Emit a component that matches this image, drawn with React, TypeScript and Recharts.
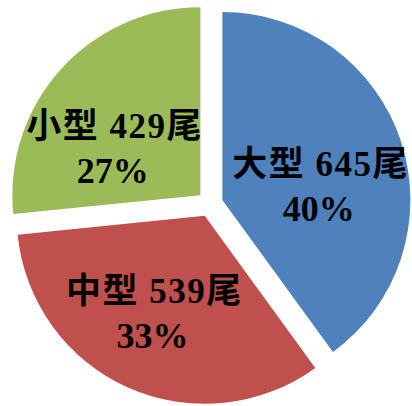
import React from 'react';
import { PieChart, Pie, Cell, Sector } from 'recharts';

const categories = ['大型', '中型', '小型'];
const counts = [645, 539, 429];
const percentLabels = ['40%', '33%', '27%'];

const COLORS = ['#4F81BD', '#C0504D', '#9BBB59'];
const EXPLODE = 13;
const RADIAN = Math.PI / 180;
// small label nudges so the text sits where the original put it
const LABEL_NUDGE = [
  [0, 8],
  [-8, -7],
  [-9, 12],
];

const data = categories.map((name, i) => ({ name, value: counts[i], pct: percentLabels[i] }));

const ExplodedSector = (props: any) => {
  const { cx, cy, midAngle } = props;
  const dx = EXPLODE * Math.cos(-midAngle * RADIAN);
  const dy = EXPLODE * Math.sin(-midAngle * RADIAN);
  return <Sector {...props} cx={cx + dx} cy={cy + dy} />;
};

const renderLabel = (props: any) => {
  const { cx, cy, midAngle, outerRadius, index } = props;
  const r = EXPLODE + outerRadius * 0.55;
  const x = cx + r * Math.cos(-midAngle * RADIAN) + LABEL_NUDGE[index][0];
  const y = cy + r * Math.sin(-midAngle * RADIAN) + LABEL_NUDGE[index][1];
  const d = data[index];
  return (
    <g>
      <text x={x} y={y} textAnchor="middle" fill="#000" fontSize={35} fontWeight="bold" letterSpacing={1.5}
        fontFamily="'Liberation Serif', 'Noto Sans CJK TC', serif">
        {`${d.name} ${d.value}尾`}
      </text>
      <text x={x - 2} y={y + 45} textAnchor="middle" fill="#000" fontSize={36} fontWeight="bold"
        fontFamily="'Liberation Serif', 'Noto Sans CJK TC', serif">
        {d.pct}
      </text>
    </g>
  );
};

const App: React.FC = () => {
  return (
    <div style={{ position: 'absolute', left: 0, top: 0, background: '#fff' }}>
      <PieChart width={412} height={406} margin={{ top: 0, right: 0, bottom: 0, left: 0 }}>
        <Pie
          data={data}
          dataKey="value"
          cx={210}
          cy={204}
          outerRadius={188}
          startAngle={90}
          endAngle={-270}
          stroke="none"
          shape={ExplodedSector}
          label={renderLabel}
          labelLine={false}
          isAnimationActive={false}
        >
          {data.map((entry, index) => (
            <Cell key={`cell-${index}`} fill={COLORS[index]} />
          ))}
        </Pie>
      </PieChart>
    </div>
  );
};

export default App;
